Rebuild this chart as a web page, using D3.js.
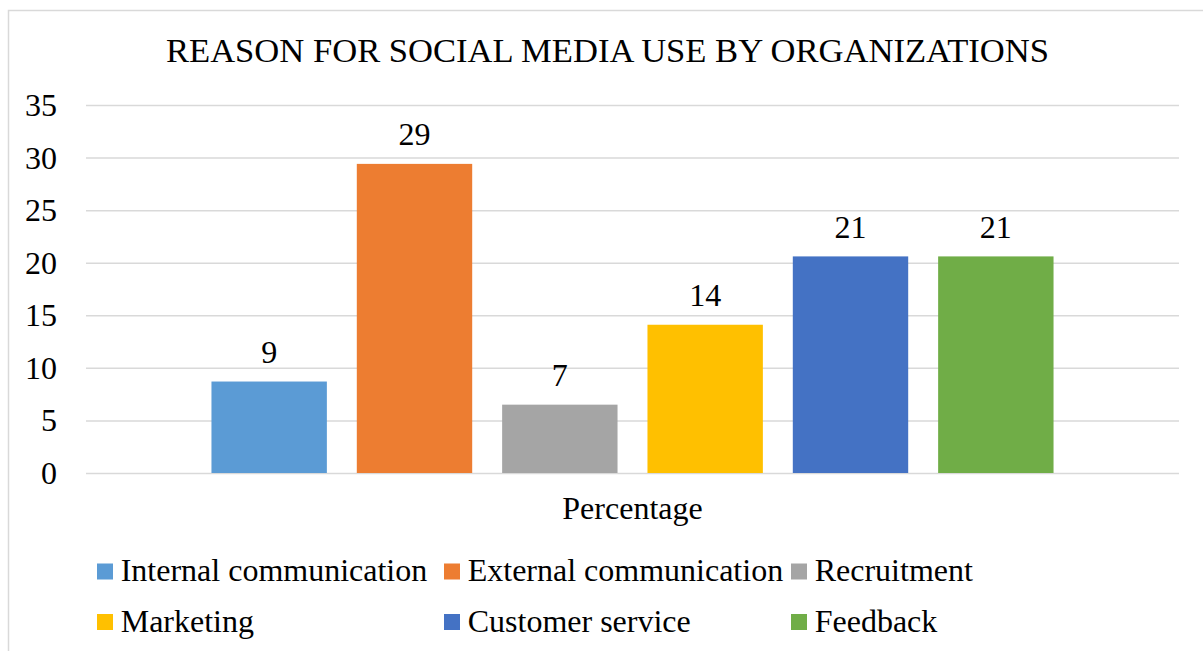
<!DOCTYPE html>
<html>
<head>
<meta charset="utf-8">
<script src="https://cdn.jsdelivr.net/npm/d3@7"></script>
<style>
  html, body { margin: 0; padding: 0; background: #ffffff; }
  svg { display: block; }
  text { font-family: "Liberation Serif", "Times New Roman", serif; fill: #000000; }
</style>
</head>
<body>
<svg id="chart" width="1203" height="651"></svg>
<script>
// Chart data
const chartTitle = "REASON FOR SOCIAL MEDIA USE BY ORGANIZATIONS";
const categories = ["Percentage"];
const seriesNames = [
  "Internal communication",
  "External communication",
  "Recruitment",
  "Marketing",
  "Customer service",
  "Feedback"
];
const seriesValues = [8.7, 29.4, 6.5, 14.1, 20.6, 20.6];
const yTicks = [0, 5, 10, 15, 20, 25, 30, 35];

// Series colours
const seriesColors = ["#5B9BD5", "#ED7D31", "#A5A5A5", "#FFC000", "#4472C4", "#70AD47"];

const serif = "\"Liberation Serif\", \"Times New Roman\", serif";
const svg = d3.select("#chart");

// Plot area
const plot = { left: 86, right: 1179, top: 105, bottom: 473 };

// Outer frame of the chart
svg.append("rect")
  .attr("x", 8.5).attr("y", 10.5)
  .attr("width", 1199).attr("height", 680)
  .attr("fill", "#ffffff")
  .attr("stroke", "#d9d9d9")
  .attr("stroke-width", 1.5);

// Title
svg.append("text")
  .attr("x", 607.5).attr("y", 62)
  .attr("text-anchor", "middle")
  .attr("font-family", serif)
  .style("font-size", "34.6px")
  .text(chartTitle);

// Scales
const y = d3.scaleLinear()
  .domain([0, 35])
  .range([plot.bottom, plot.top]);

const x0 = d3.scaleBand()
  .domain(categories)
  .range([plot.left, plot.right])
  .paddingInner(0)
  .paddingOuter(0.149);

const x1 = d3.scaleBand()
  .domain(seriesNames)
  .range([0, x0.bandwidth()])
  .paddingInner(0.206)
  .paddingOuter(0);

// Gridlines and y-axis labels
const yAxis = d3.axisLeft(y)
  .tickValues(yTicks)
  .tickSize(-(plot.right - plot.left))
  .tickPadding(29)
  .tickFormat(d3.format("d"));

const gAxis = svg.append("g")
  .attr("transform", `translate(${plot.left},0)`)
  .call(yAxis)
  .attr("font-family", serif)
  .attr("font-size", 32);

gAxis.select(".domain").remove();
gAxis.selectAll(".tick line")
  .attr("stroke", "#d9d9d9")
  .attr("stroke-width", 1.5);
gAxis.selectAll(".tick text")
  .attr("dy", "0.33em")
  .style("font-size", "32px")
  .style("font-family", serif)
  .attr("fill", "#000000");

// Bars
const data = seriesNames.map((name, i) => ({
  category: categories[0],
  name: name,
  value: seriesValues[i],
  color: seriesColors[i]
}));

const gBars = svg.append("g");

gBars.selectAll("rect")
  .data(data)
  .join("rect")
  .attr("x", d => x0(d.category) + x1(d.name))
  .attr("y", d => y(d.value))
  .attr("width", x1.bandwidth())
  .attr("height", d => y(0) - y(d.value))
  .attr("fill", d => d.color);

// Data labels
const labelFormat = d3.format(".0f");
gBars.selectAll("text")
  .data(data)
  .join("text")
  .attr("x", d => x0(d.category) + x1(d.name) + x1.bandwidth() / 2)
  .attr("y", d => y(d.value) - 18.7)
  .attr("text-anchor", "middle")
  .attr("font-family", serif)
  .style("font-size", "32px")
  .text(d => labelFormat(d.value));

// Category axis label
svg.selectAll(".cat-label")
  .data(categories)
  .join("text")
  .attr("class", "cat-label")
  .attr("x", d => x0(d) + x0.bandwidth() / 2)
  .attr("y", 519)
  .attr("text-anchor", "middle")
  .attr("font-family", serif)
  .style("font-size", "32px")
  .text(d => d);

// Legend: three columns, two rows
const legendCols = 3;
const legendX0 = 97, legendColW = 347;
const legendY0 = 563.5, legendRowH = 50.5;
const sw = 16;

const legend = svg.append("g")
  .selectAll("g")
  .data(data)
  .join("g")
  .attr("transform", (d, i) => {
    const c = i % legendCols, r = Math.floor(i / legendCols);
    return `translate(${legendX0 + c * legendColW},${legendY0 + r * legendRowH})`;
  });

legend.append("rect")
  .attr("x", 0).attr("y", 0)
  .attr("width", sw).attr("height", sw)
  .attr("fill", d => d.color);

legend.append("text")
  .attr("x", sw + 7.7)
  .attr("y", 17.5)
  .attr("font-family", serif)
  .style("font-size", "32px")
  .text(d => d.name);
</script>
</body>
</html>
